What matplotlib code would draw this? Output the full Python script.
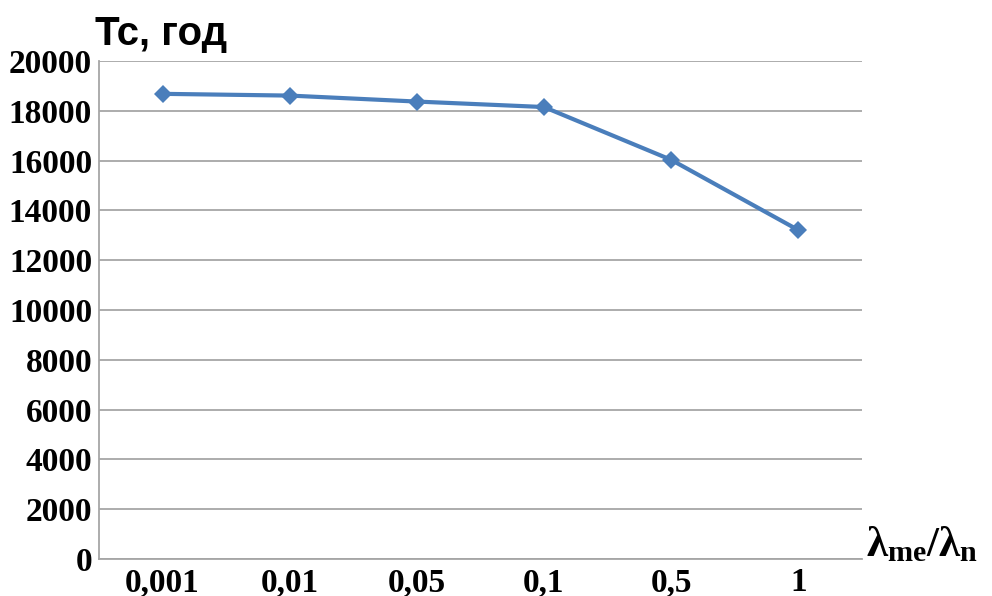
import matplotlib
matplotlib.use("Agg")
import matplotlib.pyplot as plt

categories = ["0,001", "0,01", "0,05", "0,1", "0,5", "1"]
tc_years = [18680, 18610, 18370, 18150, 16030, 13210]
y_ticks = list(range(0, 20001, 2000))

plt.rcParams["mathtext.fontset"] = "custom"
plt.rcParams["mathtext.rm"] = "Liberation Serif:bold"
plt.rcParams["mathtext.it"] = "Liberation Serif:bold"
plt.rcParams["mathtext.bf"] = "Liberation Serif:bold"

fig = plt.figure(figsize=(9.92, 5.96), dpi=100)
ax = fig.add_axes([0.0998, 0.0621, 0.769, 0.8356])

x = list(range(len(categories)))
ax.plot(x, tc_years, color="#4A7EBB", linewidth=3, marker="D",
        markersize=9.5, markeredgewidth=0, zorder=3)

ax.set_xlim(-0.5, len(categories) - 0.5)
ax.set_ylim(0, 20000)
ax.set_yticks(y_ticks)
ax.set_yticklabels([str(v) for v in y_ticks])
ax.set_xticks(x)
ax.set_xticklabels(categories)

for lab in ax.get_xticklabels() + ax.get_yticklabels():
    lab.set_fontfamily("Liberation Serif")
    lab.set_fontweight("bold")
    lab.set_fontsize(24)

ax.tick_params(axis="both", length=0)
ax.tick_params(axis="y", pad=5)
ax.tick_params(axis="x", pad=6)

ax.grid(axis="y", color="#A6A6A6", linewidth=1.3)
ax.set_axisbelow(True)
for side in ("top", "right"):
    ax.spines[side].set_visible(False)
for side in ("left", "bottom"):
    ax.spines[side].set_color("#A6A6A6")
    ax.spines[side].set_linewidth(1.3)

fig.text(0.096, 0.925, "Tc, год", fontfamily="Liberation Sans",
         fontweight="heavy", fontsize=29, ha="left", va="baseline")
fig.text(0.873, 0.066, r"$\lambda_{me}/\lambda_{n}$", fontsize=31,
         ha="left", va="baseline")

fig.savefig("out.png", dpi=100)
